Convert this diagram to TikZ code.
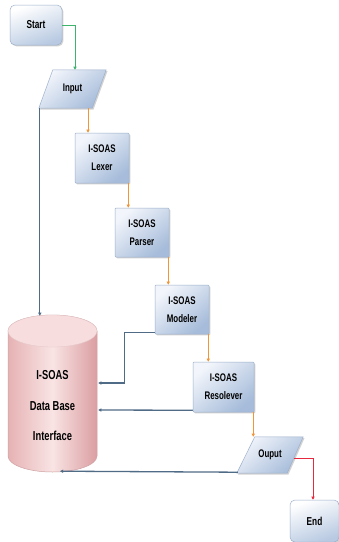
\documentclass[tikz,border=0pt]{standalone}
\usepackage{fontspec}
\setmainfont[FakeStretch=0.72]{Liberation Sans}
\usetikzlibrary{arrows.meta,shadows,calc}
\definecolor{boxlight}{HTML}{F2F5FB}
\definecolor{boxdark}{HTML}{A6BCDA}
\definecolor{boxedge}{HTML}{9DB0CC}
\definecolor{cylA}{HTML}{E6B2B4}
\definecolor{cylB}{HTML}{F9E4E4}
\definecolor{cylC}{HTML}{DB9EA1}
\definecolor{cylTop}{HTML}{F7DDDE}
\definecolor{cylEdge}{HTML}{CFA2A4}
\definecolor{dbline}{HTML}{4F6B86}
\definecolor{orangeline}{HTML}{F0953A}
\definecolor{greenline}{HTML}{3DB36E}
\definecolor{redline}{HTML}{E52A40}
\tikzset{
  procbox/.style={rectangle, draw=boxedge, line width=0.5pt, rounded corners=1pt,
    top color=boxlight, bottom color=boxdark, shading angle=40,
    drop shadow={shadow xshift=1.3pt, shadow yshift=-1.3pt, opacity=0.35, fill=gray},
    inner sep=0pt, align=center, font=\fontsize{11}{18}\selectfont\bfseries},
  termbox/.style={procbox, rounded corners=5pt, top color=white, bottom color=boxdark!80, shading angle=20,
    font=\fontsize{11.5}{12}\selectfont\bfseries},
  parabox/.style={draw=boxedge, line width=0.5pt, top color=boxlight, bottom color=boxdark, shading angle=40,
    drop shadow={shadow xshift=1.3pt, shadow yshift=-1.3pt, opacity=0.35, fill=gray}},
  ghost/.style={rectangle, inner sep=0pt, font=\fontsize{11}{12}\selectfont\bfseries},
  dbtext/.style={inner sep=0pt, font=\fontsize{13}{14}\selectfont\bfseries},
  conn/.style={line width=1pt, -{Triangle[length=3.2pt,width=3.2pt]}},
  dbconn/.style={conn, draw=dbline, line width=1.3pt},
  orconn/.style={conn, draw=orangeline},
  grconn/.style={conn, draw=greenline},
  rdconn/.style={conn, draw=redline},
}
\begin{document}
\begin{tikzpicture}[x=1pt,y=-1pt]
\useasboundingbox[fill=white] (0,0) rectangle (339,542);

% database cylinder
\node[ghost, minimum width=89pt, minimum height=157pt] (db) at (52.5,393.5) {};
\path[left color=cylA, right color=cylC, middle color=cylB, draw=cylEdge, line width=0.5pt]
  (8,331) -- (8,456) arc[start angle=180, end angle=360, x radius=44.5pt, y radius=16pt]
  -- (97,331) arc[start angle=0, end angle=180, x radius=44.5pt, y radius=16pt] -- cycle;
\path[fill=cylTop, draw=cylEdge!60, line width=0.3pt] (52.5,331) ellipse[x radius=44.5pt, y radius=16pt];
\node[dbtext] (dbA) at (52.5,375) {I-SOAS};
\node[dbtext] (dbB) at (52.5,406) {Data Base};
\node[dbtext] (dbC) at (52.5,436) {Interface};

% terminals and process boxes
\node[termbox, minimum width=52pt, minimum height=40pt] (start) at (36,25) {Start};
\node[procbox, minimum width=54pt, minimum height=50pt] (lexer) at (102,158) {I-SOAS\\Lexer};
\node[procbox, minimum width=54pt, minimum height=49pt] (parser) at (142,232.5) {I-SOAS\\Parser};
\node[procbox, minimum width=54pt, minimum height=49pt] (modeler) at (182,309.5) {I-SOAS\\Modeler};
\node[procbox, minimum width=61pt, minimum height=50pt] (resolever) at (223.5,387) {I-SOAS\\Resolever};
\node[termbox, minimum width=49pt, minimum height=42pt] (endn) at (314.5,521) {End};

% input / output parallelograms
\node[ghost, minimum width=67pt, minimum height=38pt] (input) at (72.5,89) {};
\path[parabox] ([xshift=14pt]input.north west) -- (input.north east)
  -- ([xshift=-14pt]input.south east) -- (input.south west) -- cycle;
\node[ghost] (inputtxt) at (input.center) {Input};

\node[ghost, minimum width=66pt, minimum height=36pt] (output) at (270,455) {};
\path[parabox] ([xshift=18pt]output.north west) -- (output.north east)
  -- ([xshift=-16pt]output.south east) -- (output.south west) -- cycle;
\node[ghost] (outputtxt) at (output.center) {Ouput};

% flow connectors
\draw[grconn] (start.east) -| ([xshift=2.5pt]input.north);
\draw[orconn] ([xshift=-14pt]lexer.north |- input.south) -- ([xshift=-14pt]lexer.north);
\draw[orconn] ([xshift=-1pt]lexer.south east) -- ([xshift=-1pt]lexer.south east |- parser.north);
\draw[orconn] ([xshift=-1pt]parser.south east) -- ([xshift=-1pt]parser.south east |- modeler.north);
\draw[orconn] ([xshift=-1pt]modeler.south east) -- ([xshift=-1pt]modeler.south east |- resolever.north);
\draw[orconn] ([xshift=-1pt]resolever.south east) -- ([xshift=-1pt]resolever.south east |- output.north);
\draw[rdconn] ([xshift=-9pt,yshift=-3pt]output.east) -| ([xshift=-1.5pt]endn.north);

% links to the database
\draw[dbconn] ([xshift=1pt]input.south west) -- ([xshift=1pt,yshift=-1pt]input.south west |- db.north);
\draw[dbconn] ([yshift=2pt]modeler.south west) -- ++(-30,0) |- ([xshift=1pt]db.east |- 0,383);
\draw[dbconn] ([yshift=2pt]resolever.south west) -- ([xshift=1pt]db.east |- 0,410);
\draw[dbconn] ([xshift=1pt,yshift=1pt]output.south west) -- ([xshift=7.5pt,yshift=1pt]db.south);
\end{tikzpicture}
\end{document}
